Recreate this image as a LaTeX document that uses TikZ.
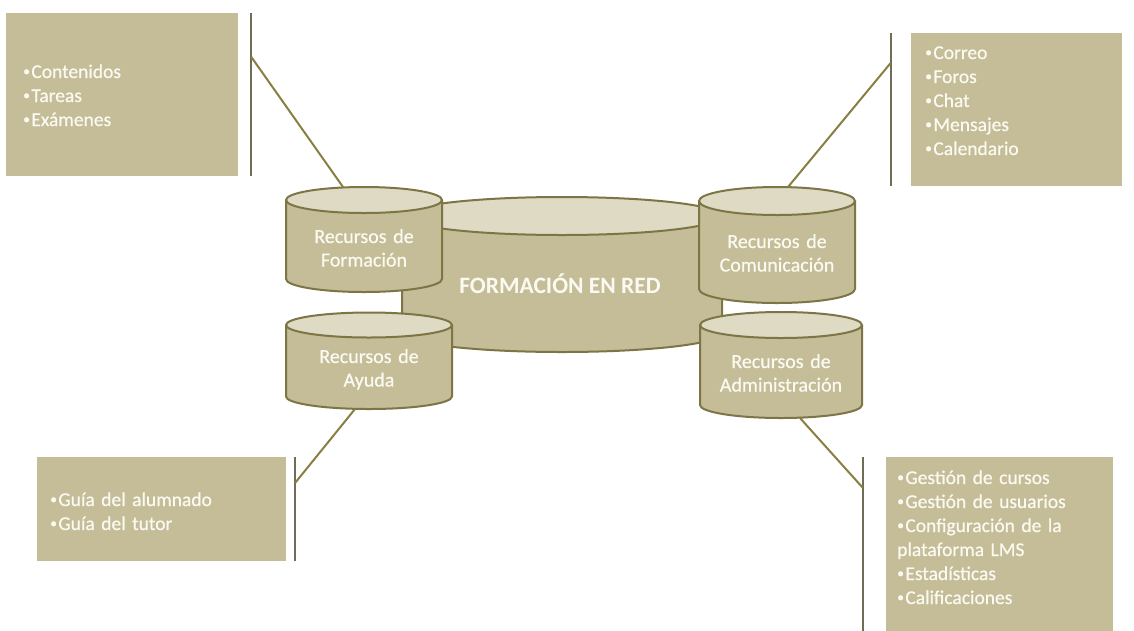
\documentclass[tikz,border=0pt]{standalone}
\usepackage{fontspec}
\setmainfont{Carlito}
\newfontfamily\heavyfont[FakeBold=0.6]{Carlito}

\definecolor{boxtan}{RGB}{196,189,151}
\definecolor{toptan}{RGB}{222,218,196}
\definecolor{rimolive}{RGB}{125,117,69}
\definecolor{lineolive}{RGB}{135,128,66}
\definecolor{bargrey}{RGB}{112,108,86}
\definecolor{txtwhite}{RGB}{251,250,242}

% small bullet in front of each entry
\newcommand{\bul}{\makebox[.42em][l]{\raisebox{.12em}{\scalebox{.7}{•}}}}

% cylinder: name, centre x, top y, bottom y, x radius, y radius
\newcommand{\dbcyl}[6]{%
	\fill[boxtan] (#2-#5,#3) -- (#2-#5,#4) arc[start angle=180, end angle=0, x radius=#5, y radius=#6] -- (#2+#5,#3) -- cycle;
	\draw[rim] (#2-#5,#3) -- (#2-#5,#4) arc[start angle=180, end angle=0, x radius=#5, y radius=#6] -- (#2+#5,#3);
	\draw[rim, fill=toptan] (#2,#3) ellipse[x radius=#5, y radius=#6];
	\coordinate (#1-top) at (#2,#3-#6);
	\coordinate (#1-bot) at (#2,#4+#6);
}

\begin{document}
\begin{tikzpicture}[x=1pt, y=-1pt,
		box/.style={fill=boxtan, draw=none, inner sep=0pt},
		rim/.style={draw=rimolive, line width=2pt},
		bar/.style={draw=bargrey, line width=2.4pt},
		link/.style={draw=lineolive, line width=2pt},
		lst/.style={text=txtwhite, font=\heavyfont\fontsize{19.5}{24}\selectfont, align=left, text width=220pt, inner sep=0pt, anchor=base west},
		cyltxt/.style={text=txtwhite, font=\heavyfont\fontsize{20}{23.5}\selectfont, align=center, text width=170pt, inner sep=0pt, anchor=base}]
	\useasboundingbox[fill=white] (0,0) rectangle (1134,630);

	% boxes with their brackets
	\node[box, minimum width=232pt, minimum height=163pt] (box1) at (122,94.5) {};
	\node[box, minimum width=211pt, minimum height=153pt] (box2) at (1016.5,109.5) {};
	\node[box, minimum width=249pt, minimum height=104pt] (box3) at (161.5,509) {};
	\node[box, minimum width=227pt, minimum height=175pt] (box4) at (999.5,544.5) {};

	\draw[bar] ([xshift=13pt]box1.north east) -- ([xshift=13pt]box1.south east);
	\draw[bar] ([xshift=-20pt]box2.north west) -- ([xshift=-20pt]box2.south west);
	\draw[bar] ([xshift=9pt]box3.north east) -- ([xshift=9pt]box3.south east);
	\draw[bar] ([xshift=-23pt]box4.north west) -- ([xshift=-23pt]box4.south west);

	\coordinate (j1) at ([xshift=13pt, yshift=-44pt]box1.north east);
	\coordinate (j2) at ([xshift=-20pt, yshift=-30pt]box2.north west);
	\coordinate (j3) at ([xshift=9pt, yshift=-26pt]box3.north east);
	\coordinate (j4) at ([xshift=-23pt, yshift=-31pt]box4.north west);

	\node[lst] (t1) at (23,78) {\bul Contenidos\\\bul Tareas\\\bul Exámenes};
	\node[lst] (t2) at (925,59) {\bul Correo\\\bul Foros\\\bul Chat\\\bul Mensajes\\\bul Calendario};
	\node[lst] (t3) at (50,506) {\bul Guía del alumnado\\\bul Guía del tutor};
	\node[lst] (t4) at (897,484) {\bul Gestión de cursos\\\bul Gestión de usuarios\\\bul Configuración de la\\plataforma LMS\\\bul Estadísticas\\\bul Calificaciones};

	% cylinders
	\dbcyl{red}{562}{216}{333}{160}{19}
	\dbcyl{form}{364}{200}{279}{78}{13}
	\dbcyl{com}{777}{201}{289}{78}{14}
	\dbcyl{ayu}{369}{325}{396.5}{83}{12.5}
	\dbcyl{adm}{781}{325}{405}{81}{13}

	\node[text=txtwhite, font=\fontsize{23.5}{27}\selectfont\bfseries, inner sep=0pt, anchor=base] (redtxt) at (560,293) {FORMACIÓN EN RED};
	\node[cyltxt] (formtxt) at (364,243) {Recursos de\\Formación};
	\node[cyltxt] (comtxt) at (777,248) {Recursos de\\Comunicación};
	\node[cyltxt] (ayutxt) at (369,363) {Recursos de\\Ayuda};
	\node[cyltxt] (admtxt) at (781,368) {Recursos de\\Administración};

	% connectors
	\draw[link] (j1) -- ([xshift=-21pt]form-top);
	\draw[link] (j2) -- ([xshift=11pt]com-top);
	\draw[link] (j3) -- ([xshift=-14pt]ayu-bot);
	\draw[link] (j4) -- ([xshift=19pt]adm-bot);
\end{tikzpicture}
\end{document}
